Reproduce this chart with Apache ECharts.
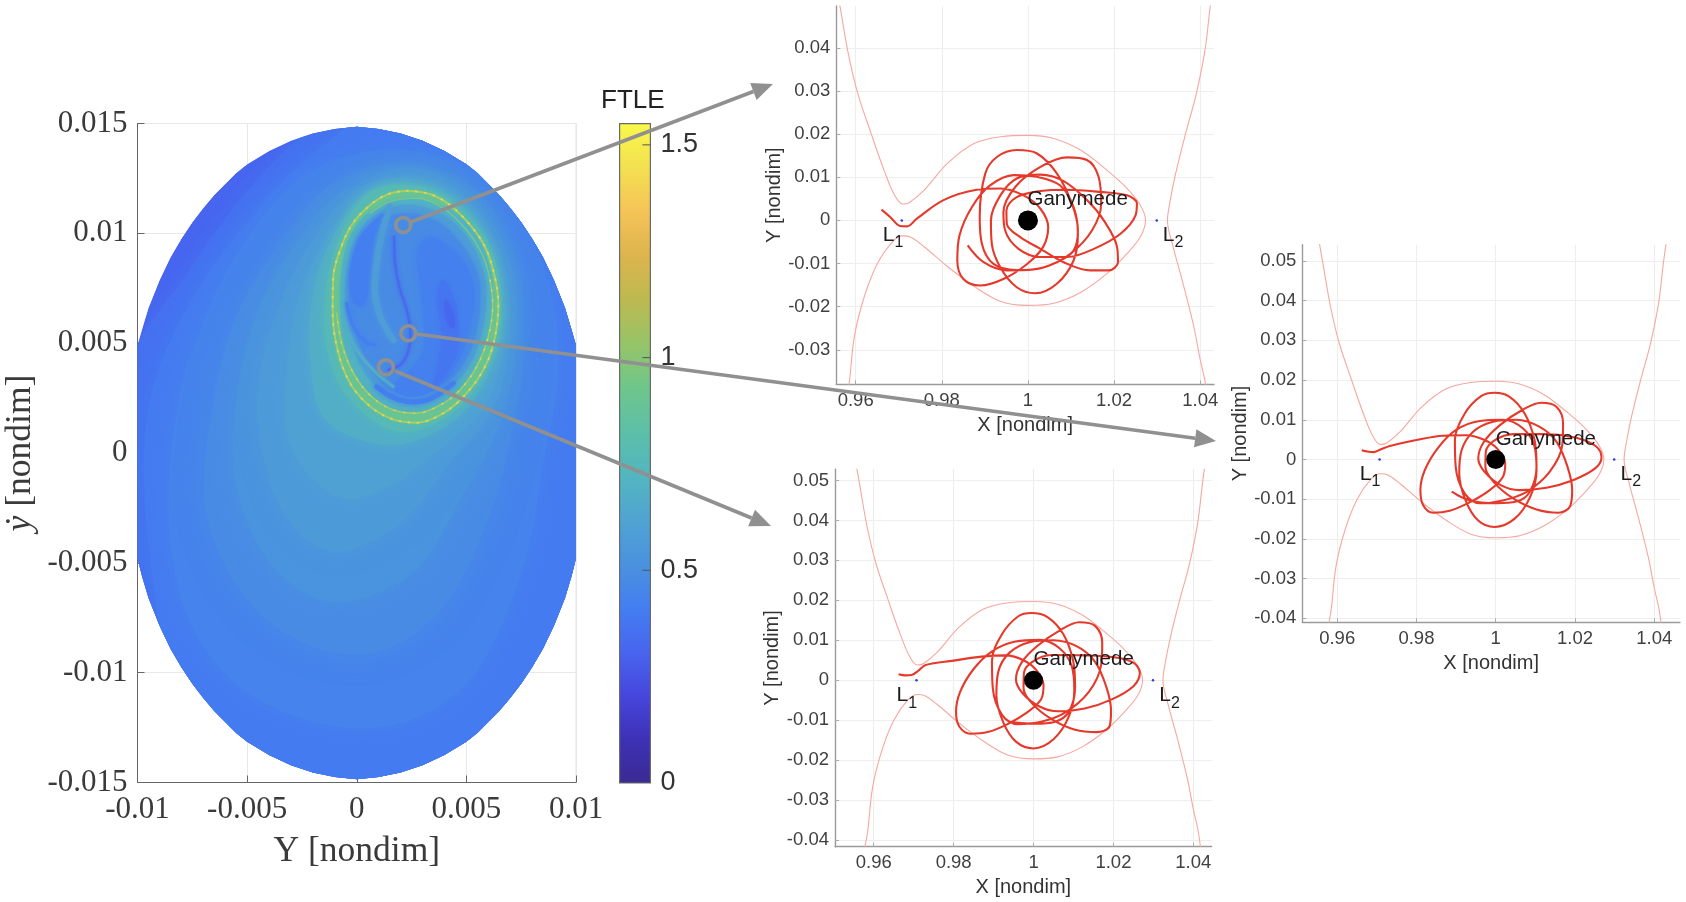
<!DOCTYPE html>
<html>
<head>
<meta charset="utf-8">
<title>FTLE map and Ganymede trajectories</title>
<script src="https://cdn.jsdelivr.net/npm/echarts@6/dist/echarts.min.js"></script>
<style>
html, body { margin: 0; padding: 0; background: #fff; }
#chart { width: 1686px; height: 902px; }
</style>
</head>
<body>
<div id="chart"></div>
<script>
// colour scale of the FTLE bar, evenly spaced from 0 to 1.55
var parulaColors = ['#3a2a92', '#3d31b5', '#4646dd', '#4865ef', '#447ef1', '#4a92de', '#50a4d2', '#53b6bf',
    '#5cbfa8', '#6fc68b', '#97c468', '#bdb94f', '#ddb44e', '#f5c457', '#f3e050', '#f9f94a'];
var ftleMax = 1.55;

// outline of the sampled region [Y, ydot]
var regionEdge = [[0, 0.01485], [0.001, 0.01475], [0.002, 0.01455], [0.003, 0.01422], [0.004, 0.01375], [0.005, 0.01315], [0.0055, 0.01275],
    [0.006, 0.01225], [0.0065, 0.01175], [0.007, 0.01115], [0.0075, 0.0105], [0.008, 0.00975], [0.0085, 0.0089], [0.009, 0.00785], [0.0095, 0.0066], [0.0098, 0.0056], [0.01, 0.0049],
    [0.01, -0.0048], [0.0098, -0.0056], [0.0095, -0.0066], [0.009, -0.00785], [0.0085, -0.0089], [0.008, -0.00975], [0.0075, -0.0105], [0.007, -0.01115], [0.0065, -0.01175], [0.006, -0.01225], [0.0055, -0.01275],
    [0.005, -0.01315], [0.004, -0.01375], [0.003, -0.01422], [0.002, -0.01455], [0.001, -0.01475], [0, -0.01485],
    [-0.001, -0.01475], [-0.002, -0.01455], [-0.003, -0.01422], [-0.004, -0.01375], [-0.005, -0.01315], [-0.0055, -0.01275], [-0.006, -0.01225], [-0.0065, -0.01175],
    [-0.007, -0.01115], [-0.0075, -0.0105], [-0.008, -0.00975], [-0.0085, -0.0089], [-0.009, -0.00785], [-0.0095, -0.0066], [-0.0098, -0.0056], [-0.01, -0.0048],
    [-0.01, 0.0049], [-0.0098, 0.0056], [-0.0095, 0.0066], [-0.009, 0.00785], [-0.0085, 0.0089], [-0.008, 0.00975], [-0.0075, 0.0105], [-0.007, 0.01115], [-0.0065, 0.01175], [-0.006, 0.01225], [-0.0055, 0.01275],
    [-0.005, 0.01315], [-0.004, 0.01375], [-0.003, 0.01422], [-0.002, 0.01455], [-0.001, 0.01475]];

// FTLE contours, lowest level first
var contour36 = [[-0.0105, 0.0035], [-0.0075, 0.0085], [-0.0045, 0.0125], [-0.001, 0.0155], [0.004, 0.017], [0.012, 0.016], [0.013, -0.018], [-0.012, -0.018]];
var contour40 = [[-0.0095, -0.004], [-0.0095, 0.002], [-0.0078, 0.0065], [-0.005, 0.0105], [-0.0018, 0.0138], [0.002, 0.016], [0.012, 0.016], [0.012, -0.008], [0.008, -0.0135], [0.004, -0.0155], [-0.004, -0.016], [-0.008, -0.011]];
var contour44 = [[-0.0085, -0.004], [-0.0082, 0.002], [-0.0068, 0.0065], [-0.0045, 0.0105], [-0.0018, 0.013], [0.002, 0.0138], [0.006, 0.0125], [0.0085, 0.0085], [0.0092, 0.004], [0.0085, -0.0005], [0.0075, -0.0055], [0.005, -0.0105], [0.001, -0.0125], [-0.004, -0.0115], [-0.0072, -0.0085]];
var contour48 = [[-0.0068, -0.003], [-0.0066, 0.002], [-0.0055, 0.0062], [-0.0035, 0.0095], [-0.0012, 0.0122], [0.002, 0.0132], [0.0052, 0.0122], [0.0072, 0.0092], [0.0076, 0.0055], [0.0072, 0.0015], [0.0058, -0.0035], [0.0035, -0.0075], [0, -0.0092], [-0.0042, -0.0075]];
var contour52 = [[-0.0055, -0.0015], [-0.0055, 0.0025], [-0.0045, 0.0065], [-0.0028, 0.0095], [-0.0008, 0.0118], [0.0022, 0.013], [0.005, 0.012], [0.0069, 0.009], [0.0073, 0.0055], [0.0066, 0.0015], [0.0048, -0.002], [0.0025, -0.0055], [-0.001, -0.0068], [-0.0038, -0.0052]];
var contour56 = [[-0.0042, -0.0005], [-0.0045, 0.003], [-0.0035, 0.0068], [-0.002, 0.0097], [-0.0003, 0.0118], [0.0023, 0.0127], [0.0048, 0.0118], [0.0066, 0.009], [0.007, 0.0055], [0.0062, 0.002], [0.0042, -0.0005], [0.002, -0.0032], [-0.001, -0.0045], [-0.003, -0.0032]];
var contour60 = [[-0.003, 0.0003], [-0.0032, 0.0035], [-0.0026, 0.0072], [-0.0014, 0.0097], [0.0002, 0.0118], [0.0023, 0.0125], [0.0046, 0.0117], [0.0063, 0.0092], [0.0068, 0.0058], [0.0059, 0.0022], [0.0038, 0.0002], [0.0015, -0.0015], [-0.0008, -0.002]];
var contour66 = [[-0.0014, 0.0015], [-0.0021, 0.004], [-0.002, 0.0072], [-0.0011, 0.0098], [0.0004, 0.0118], [0.0023, 0.0123], [0.0044, 0.0116], [0.0061, 0.0094], [0.00665, 0.0062], [0.0062, 0.004], [0.0048, 0.0018], [0.0028, 0.0006], [0.001, 0.0004]];
var contour72 = [[-0.0006, 0.0028], [-0.0014, 0.005], [-0.0014, 0.0075], [-0.0008, 0.0098], [0.0005, 0.0118], [0.0023, 0.0122], [0.0043, 0.0115], [0.006, 0.0095], [0.0066, 0.0068], [0.0061, 0.0042], [0.0048, 0.0022], [0.0027, 0.001], [0.0012, 0.0012]];

// the yellow ring and the bands inside it
var ringOuter = [[0.00228, 0.01194], [0.00334, 0.01179], [0.00425, 0.01129], [0.00517, 0.01038], [0.00585, 0.00939], [0.00626, 0.00818], [0.00646, 0.00681], [0.00631, 0.0053], [0.00585, 0.00393], [0.00501, 0.00272], [0.00395, 0.00181], [0.00273, 0.00138], [0.00152, 0.00158], [0.00045, 0.00226], [-0.00038, 0.00332], [-0.00091, 0.00484], [-0.0011, 0.00651], [-0.00107, 0.00803], [-0.00076, 0.00924], [-0.00023, 0.01038], [0.00061, 0.01129], [0.00144, 0.01179]];
var ringSecond = [[0.00608, 0.00787], [0.0062, 0.00681], [0.006, 0.0053], [0.00547, 0.00393], [0.00471, 0.00287], [0.0038, 0.00218], [0.00273, 0.00181], [0.00167, 0.00196], [0.00068, 0.00256], [-0.00015, 0.00363], [-0.00069, 0.00499], [-0.00091, 0.00636]];
var ringThird = [[0.00061, 0.01091], [0.00152, 0.01144], [0.00273, 0.01159], [0.00395, 0.01114], [0.00501, 0.01015], [0.00577, 0.00894], [0.00608, 0.00787]];
var inner72 = [[0.00228, 0.01159], [0.00425, 0.01106], [0.00547, 0.00985], [0.00608, 0.00833], [0.00618, 0.00681], [0.00593, 0.0053], [0.00539, 0.00393], [0.00456, 0.00279], [0.0038, 0.00218], [0.00273, 0.00188], [0.00167, 0.00203], [0.00068, 0.00264], [-0.00015, 0.00378], [-0.00061, 0.00514], [-0.00076, 0.00681], [-0.00069, 0.00833], [-0.00031, 0.00985], [0.00061, 0.01098]];
var inner60 = [[0.00228, 0.01129], [0.00395, 0.01083], [0.00517, 0.00962], [0.0058, 0.00818], [0.0059, 0.00681], [0.00565, 0.0053], [0.00509, 0.00393], [0.00425, 0.00302], [0.00273, 0.00234], [0.00167, 0.00249], [0.00076, 0.00317], [0.00007, 0.00423], [-0.00034, 0.00545], [-0.00053, 0.00681], [-0.00043, 0.00833], [-0.00008, 0.00969], [0.00076, 0.01076]];
var inner50 = [[0.00243, 0.01091], [0.0038, 0.01045], [0.00486, 0.00939], [0.00555, 0.00803], [0.00562, 0.00681], [0.00539, 0.0053], [0.00479, 0.00393], [0.00395, 0.00317], [0.00273, 0.00264], [0.00167, 0.00279], [0.00091, 0.00347], [0.0003, 0.00454], [-0.00015, 0.00575], [-0.00034, 0.00696], [-0.00023, 0.00833], [0.00015, 0.00954], [0.00106, 0.0106]];
var inner43 = [[0.00349, 0.00985], [0.00471, 0.00894], [0.00532, 0.00772], [0.00532, 0.00651], [0.00501, 0.00514], [0.00441, 0.00378], [0.00349, 0.00287], [0.00243, 0.00256], [0.00167, 0.00302], [0.00243, 0.00378], [0.00304, 0.00469], [0.00304, 0.00605], [0.00289, 0.00757], [0.00273, 0.00909], [0.00304, 0.00969]];
var inner36 = [[0.00395, 0.00787], [0.00448, 0.00696], [0.00463, 0.00575], [0.00463, 0.00469], [0.0041, 0.00363], [0.00349, 0.00302], [0.00372, 0.00408], [0.00387, 0.0053], [0.00372, 0.00651], [0.00365, 0.00727]];
var inner31 = [[0.00403, 0.00696], [0.00433, 0.00658], [0.00448, 0.00575], [0.00425, 0.00575], [0.00403, 0.00636]];
var pocketLeft = [[0.00137, 0.01098], [0.00083, 0.00985], [0.00061, 0.00833], [0.00045, 0.00696], [0.00015, 0.00663], [-0.00015, 0.00689], [-0.00034, 0.00772], [-0.00023, 0.00878], [0.00023, 0.00999]];
var ridgeLine = [[0.00152, 0.01121], [0.00114, 0.00999], [0.00091, 0.00863], [0.00083, 0.00727], [0.00114, 0.00605], [0.00167, 0.00514]];
var ridgeLow = [[-0.00061, 0.00621], [0, 0.00469], [0.00091, 0.00363], [0.00167, 0.00302]];
var bandBottom = [[0.00091, 0.00302], [0.00197, 0.00241], [0.00319, 0.00241], [0.00441, 0.00317]];
var filamentMain = [[0.0017, 0.00985], [0.00175, 0.00863], [0.00194, 0.00757], [0.00228, 0.00651], [0.00243, 0.00575], [0.0024, 0.00484], [0.00205, 0.00408], [0.00144, 0.00378]];
var filamentLow = [[-0.00046, 0.00681], [-0.00015, 0.00575], [0.00038, 0.00507], [0.00083, 0.00492]];

// the grey rings on the map, one per sampled trajectory
var pickedPoints = [[0.00212, 0.01038], [0.00235, 0.00545], [0.00133, 0.0039]];

// zero velocity curves [X, Y], shared by the three orbit panels
var zvcLeft = [[0.9555, 0.0545], [0.9564, 0.0494], [0.9583, 0.0386], [0.9605, 0.0294], [0.9636, 0.0201], [0.9666, 0.0116], [0.969, 0.0059], [0.9709, 0.0038],
    [0.9724, 0.0041], [0.9759, 0.007], [0.9813, 0.0132], [0.9875, 0.0178], [0.9937, 0.0194], [1, 0.0197], [1.006, 0.019], [1.0122, 0.0163], [1.0184, 0.0116],
    [1.023, 0.0074], [1.0261, 0.0035], [1.0273, 0], [1.0261, -0.0038], [1.023, -0.0077], [1.0184, -0.0123], [1.0122, -0.0167], [1.006, -0.0192], [1, -0.0197],
    [0.9937, -0.0188], [0.9875, -0.0153], [0.9813, -0.0107], [0.9759, -0.0061], [0.9728, -0.0039], [0.9709, -0.0036], [0.9686, -0.0049], [0.9651, -0.0099],
    [0.962, -0.0177], [0.9597, -0.0269], [0.9585, -0.0377], [0.9577, -0.042]];
var zvcRight = [[1.043, 0.0545], [1.0423, 0.0494], [1.0411, 0.0394], [1.0391, 0.0294], [1.0366, 0.0201], [1.0343, 0.0109], [1.0329, 0.0039], [1.0324, 0],
    [1.0337, -0.0061], [1.036, -0.0146], [1.0385, -0.0246], [1.04, -0.0323], [1.0412, -0.0377], [1.0418, -0.042]];
var lagrangePoints = [[0.9707, 0], [1.0299, 0]];
var ganymede = [[1, 0]];

// trajectories, offsets from Ganymede in units of 0.001
var orbitTop = [[-34, 2.5], [-32, 0.8], [-29.7, -1.3], [-28.1, -1.4], [-25.8, 0.4], [-19.6, 4.7], [-11.9, 7.1], [-6.4, 7.4], [-1, 5.8], [2.9, 2.7], [4.7, -1.6], [3.5, -6.2], [-0.2, -10.1], [-5.7, -13.6], [-11.1, -15.1], [-15, -13.6], [-16.4, -9.3], [-15.9, -3.5], [-13, 3.1], [-8.8, 8.1], [-3.3, 10.5], [2.1, 10.1], [7.5, 8.1], [10.6, 3.1], [11.6, -3.1], [10.6, -9.3], [6.7, -14.7], [1.7, -16.9], [-2.6, -15.5], [-6.4, -10.9], [-8.4, -5.4], [-8.6, 0], [-6.4, 5.8], [-2.6, 9.7], [2.9, 10.6], [8.3, 9.1], [13.7, 4.7], [17.6, 0], [20.7, -6.2], [20.9, -9.7], [18.8, -11.6], [14.5, -11.6], [8.3, -9.7], [2.9, -6.6], [-1.8, -3.9], [-4.9, -0.8], [-5, 2.3], [-2.6, 5.4], [2.9, 6.8], [9.1, 7.1], [16.8, 6.6], [23, 5.8], [25.3, 3.9], [25, 1.2], [21.5, -3.1], [15.3, -6.6], [9.1, -8.5], [2.9, -8.5], [-2.2, -6.6], [-5.3, -2.3], [-5.7, 1.9], [-2.9, 7.8], [2.9, 12.4], [9.1, 14.6], [13.7, 14], [16.4, 10.1], [17, 3.9], [14.9, -2.3], [9.8, -7.8], [3.6, -10.9], [-2.6, -11.5], [-8, -10.1], [-10.7, -5.4], [-11.2, 0.8], [-9.9, 10.9], [-7.2, 14.7], [-2.6, 16.3], [2.1, 15.5], [6.7, 10.9], [10.2, 3.9], [11.6, -2.3], [10.6, -7], [6.7, -9.7], [1.3, -11.4], [-4.9, -11.6], [-10.3, -9.7], [-14, -5.8]];
var orbitRight = [[-33.8, 2.35], [-32.4, 2], [-30.8, 1.85], [-29.1, 2.5], [-26.7, 3.4], [-20, 4.9], [-13.3, 6], [-7.4, 6.1], [-2.8, 4.9], [0.6, 2.5], [2.4, -1], [1.8, -4.4], [-1.5, -7.7], [-6.6, -10.8], [-11.6, -12.9], [-15.8, -13.4], [-18.3, -11.5], [-19, -7.7], [-17.9, -2.7], [-14.5, 3], [-9.9, 7.5], [-4, 9.7], [1.8, 10], [6.9, 7.8], [9.8, 3.2], [10.3, -2.7], [8.7, -9.4], [4.8, -14.9], [-0.3, -17], [-4.5, -15.3], [-7.6, -10.3], [-9.2, -3.5], [-8.6, 2.4], [-5.7, 7], [-0.7, 9.5], [5.2, 10], [11.1, 8.2], [15.4, 4.4], [18.1, -1.8], [19.3, -7.7], [18.7, -11.9], [15.8, -13.4], [10.3, -12.6], [4.4, -9.8], [-0.3, -5.9], [-2.6, -1.8], [-2.5, 1.9], [-0.3, 4.8], [4.4, 6.4], [12.8, 6.4], [20.3, 5.5], [25.2, 3.4], [26.7, 0.5], [25, -2.3], [19.5, -5.2], [12.8, -7.1], [6, -7.7], [1.4, -6.5], [-2.8, -3.1], [-4.4, 0.25], [-3, 4.4], [1, 8.6], [6.9, 12.6], [11.5, 14.3], [15.3, 13.3], [17, 9.1], [16.8, 3.6], [13.6, -3.1], [7.7, -8.2], [1.8, -10.3], [-4, -11], [-7.8, -8.6], [-10.1, -1.8], [-10.3, 4.9], [-7.8, 11.6], [-3.6, 16], [-0.3, 16.8], [3.5, 15.8], [7.3, 11.6], [9.8, 4.9], [10.3, -1.8], [8.6, -8.1], [5.2, -10.6], [0.2, -11], [-5.3, -10.6], [-8.6, -9.5], [-11.1, -8.1]];
var orbitBottom = [[-33.8, 1.5], [-32, 1.2], [-30.5, 1.3], [-28.8, 2.4], [-27, 3.8], [-20, 4.9], [-13, 5.9], [-7, 6.2], [-2.5, 5], [0.8, 2.4], [2.5, -1.2], [1.9, -4.8], [-1.5, -8], [-6.5, -11], [-11.5, -13], [-15.8, -13.4], [-18.6, -11.6], [-19.4, -8], [-18.4, -3], [-15, 2.8], [-10.3, 7.3], [-4.5, 9.7], [1.5, 10.1], [6.5, 8], [9.6, 3.4], [10.2, -2.5], [8.8, -9.2], [5, -14.8], [0, -17.1], [-4.4, -15.4], [-7.6, -10.5], [-9.3, -3.8], [-8.8, 2.2], [-6, 6.9], [-1, 9.5], [5, 10], [11, 8.4], [15.4, 4.6], [18.2, -1.6], [19.4, -7.6], [19, -11.6], [15.8, -13], [10.4, -12.4], [4.6, -9.8], [-0.2, -6], [-2.5, -2], [-2.4, 1.8], [-0.3, 4.6], [4.4, 6.3], [12.8, 6.2], [20.3, 5.7], [25, 4.4], [26.6, 1.8], [25, -1.5], [19.6, -4.8], [12.8, -7.1], [6.2, -7.8], [1.5, -6.6], [-2.8, -3.2], [-4.4, 0.2], [-3, 4.4], [1, 8.6], [6.8, 12.6], [11.4, 14.5], [15.4, 13.6], [17.2, 9.3], [16.9, 3.7], [13.8, -3], [7.8, -8.2], [1.9, -10.4], [-4, -11], [-7.8, -8.8], [-10.2, -2], [-10.4, 4.8], [-7.9, 11.5], [-3.8, 16], [-0.5, 16.8], [3.5, 15.8], [7.4, 11.6], [9.9, 4.9], [10.4, -1.8], [8.8, -8], [5.4, -10.4], [0.4, -10.9], [-3.5, -10.7], [-6.2, -10.4]];

// tick labels
var mapXTicks = [-0.01, -0.005, 0, 0.005, 0.01];
var mapYTicks = [-0.015, -0.01, -0.005, 0, 0.005, 0.01, 0.015];
var barTicks = [0, 0.5, 1, 1.5];
var panelXTicks = [0.96, 0.98, 1, 1.02, 1.04];
var topYTicks = [-0.03, -0.02, -0.01, 0, 0.01, 0.02, 0.03, 0.04];
var sideYTicks = [-0.04, -0.03, -0.02, -0.01, 0, 0.01, 0.02, 0.03, 0.04, 0.05];

var fieldLayers = [
    { level: 0.31, pts: regionEdge }, { level: 0.36, pts: contour36, smooth: 0.35, blur: 26 }, { level: 0.4, pts: contour40, smooth: 0.35, blur: 26 },
    { level: 0.44, pts: contour44, smooth: 0.35, blur: 26 }, { level: 0.48, pts: contour48, smooth: 0.35, blur: 26 }, { level: 0.52, pts: contour52, smooth: 0.35, blur: 24 },
    { level: 0.56, pts: contour56, smooth: 0.35, blur: 20 }, { level: 0.6, pts: contour60, smooth: 0.35, blur: 16 }, { level: 0.68, pts: contour66, smooth: 0.35, blur: 12 },
    { level: 0.76, pts: contour72, smooth: 0.35, blur: 8 },
    { level: 0.9, pts: ringOuter, smooth: 0.35, blur: 5 }, { level: 0.7, pts: inner72, smooth: 0.35, blur: 3 }, { level: 0.58, pts: inner60, smooth: 0.35, blur: 4 },
    { level: 0.48, pts: inner50, smooth: 0.35, blur: 5 }, { level: 0.43, pts: inner43, smooth: 0.35, blur: 7 }, { level: 0.38, pts: inner36, smooth: 0.35, blur: 6 },
    { level: 0.32, pts: inner31, smooth: 0.35, blur: 5 }, { level: 0.42, pts: pocketLeft, smooth: 0.35, blur: 6 },
    { level: 0.58, pts: ridgeLine, line: 6, blur: 5 }, { level: 0.68, pts: ridgeLow, line: 2.5, blur: 3 }, { level: 0.42, pts: bandBottom, line: 5, blur: 6 },
    { level: 0.33, pts: filamentMain, line: 2.5, blur: 4 }, { level: 0.42, pts: filamentLow, line: 3, blur: 4 }
];

function fromGanymede(list) {
    return list.map(function (d) { return [1 + d[0] / 1000, d[1] / 1000]; });
}

function drawLayer(params, api) {
    var layer = fieldLayers[params.dataIndex];
    var color = api.visual('color');
    var points = layer.pts.map(function (p) { return api.coord(p); });
    var style = layer.line
        ? { fill: null, stroke: color, lineWidth: layer.line, lineCap: 'round', shadowBlur: layer.blur, shadowColor: color }
        : { fill: color, shadowBlur: layer.blur || 0, shadowColor: color };
    return {
        type: layer.line ? 'polyline' : 'polygon',
        shape: { points: points, smooth: layer.line ? 0.35 : (layer.smooth || 0) },
        style: style,
        silent: true,
        clipPath: { type: 'polygon', shape: { points: regionEdge.map(function (p) { return api.coord(p); }) } }
    };
}

function drawBar(params, api) {
    var a = api.coord([0, ftleMax]);
    var b = api.coord([1, 0]);
    var stops = parulaColors.map(function (c, i) { return { offset: i / (parulaColors.length - 1), color: c }; });
    var kids = [{
        type: 'rect',
        shape: { x: a[0], y: a[1], width: b[0] - a[0], height: b[1] - a[1] },
        style: { fill: new echarts.graphic.LinearGradient(0, 1, 0, 0, stops), stroke: '#6a6a6a', lineWidth: 1.2 }
    }];
    barTicks.forEach(function (t) {
        if (t === 0) return;
        var p = api.coord([1, t]);
        kids.push({
            type: 'line',
            shape: { x1: p[0], y1: p[1], x2: p[0] - 8, y2: p[1] },
            style: { stroke: '#555', lineWidth: 1 }
        });
    });
    return { type: 'group', children: kids, silent: true };
}

var sans = '"Liberation Sans", Arial, sans-serif';
var serif = '"Liberation Serif", "DejaVu Serif", serif';

var option = {
    animation: false,
    backgroundColor: '#fff',
    textStyle: { fontFamily: sans },
    grid: [
        { left: 137.5, top: 123.5, width: 438.5, height: 659, show: true, borderColor: '#e4e4e4', borderWidth: 1, backgroundColor: 'transparent' },
        { left: 619.6, top: 123.6, width: 30.8, height: 659.4 },
        { left: 836.3, top: 6, width: 377.7, height: 378.3 },
        { left: 1302.3, top: 244.7, width: 377.7, height: 377.6 },
        { left: 835, top: 469.3, width: 376.7, height: 377.4 }
    ],
    xAxis: [
        mapAxis(0, -0.01, 0.01, 0.005, mapXTicks, 'Y [nondim]', 51, 12),
        { gridIndex: 1, type: 'value', min: 0, max: 1, show: false },
        panelX(2, 0.9555, 1.0432),
        panelX(3, 0.9512, 1.0465),
        panelX(4, 0.9503, 1.0446)
    ],
    yAxis: [
        mapAxis(0, -0.015, 0.015, 0.005, mapYTicks, '{i|ẏ} [nondim]', 99, 10),
        {
            gridIndex: 1, type: 'value', position: 'right', min: 0, max: ftleMax,
            axisLine: { show: false }, splitLine: { show: false }, axisTick: { show: false },
            axisLabel: { customValues: barTicks, margin: 10, fontSize: 27, color: '#333', fontFamily: sans, padding: [7, 0, 0, 0] },
            z: 5
        },
        panelY(2, -0.038, 0.0497, topYTicks, 50),
        panelY(3, -0.041, 0.0541, sideYTicks, 41),
        panelY(4, -0.0417, 0.0528, sideYTicks, 50)
    ],
    visualMap: {
        show: false, seriesIndex: 0, dimension: 2, min: 0, max: ftleMax,
        inRange: { color: parulaColors }
    },
    series: [
        {
            type: 'custom', xAxisIndex: 0, yAxisIndex: 0, coordinateSystem: 'cartesian2d',
            renderItem: drawLayer, encode: { x: 0, y: 1 },
            data: fieldLayers.map(function (l) { return [l.pts[0][0], l.pts[0][1], l.level]; })
        },
        ringLine(ringThird, '#7cc98a', 1.4, false, null),
        ringLine(ringSecond, '#a9cc62', 1.5, false, null),
        ringLine(ringSecond, '#e6d24f', 1.6, false, [1, 9]),
        ringLine(ringOuter, '#b2cf5f', 1.9, true, null),
        ringLine(ringOuter, '#ecd44f', 2, true, [1, 8]),
        {
            type: 'scatter', xAxisIndex: 0, yAxisIndex: 0, data: pickedPoints, symbolSize: 15, z: 20,
            itemStyle: { color: 'transparent', borderColor: '#909090', borderWidth: 3.6, opacity: 1 }
        },
        {
            type: 'custom', xAxisIndex: 1, yAxisIndex: 1, renderItem: drawBar, data: [[0, ftleMax]], encode: { x: 0, y: 1 }
        }
    ].concat(
        panelSeries(2, orbitTop, 20, [0.9999, 0.0049], [0.9663, -0.0041], [1.0313, -0.0041]),
        panelSeries(3, orbitRight, 19, [1, 0.0051], [0.9657, -0.0044], [1.0315, -0.0044]),
        panelSeries(4, orbitBottom, 19, [1, 0.0052], [0.9657, -0.0045], [1.0315, -0.0045])
    ),
    graphic: {
        elements: [
            { type: 'text', left: 601, top: 88, z: 50, style: { text: 'FTLE', font: '26px ' + sans, fill: '#222' } }
        ].concat(
            arrow(411, 222, 773, 84),
            arrow(417, 334, 1216, 441),
            arrow(395, 371, 771, 526)
        )
    }
};

function mapAxis(grid, min, max, step, ticks, name, gap, margin) {
    return {
        gridIndex: grid, type: 'value', min: min, max: max, interval: step,
        name: name, nameLocation: 'middle', nameGap: gap,
        nameTextStyle: { fontFamily: serif, fontSize: 35.5, color: '#3a3a3a', rich: { i: { fontFamily: serif, fontStyle: 'italic', fontSize: 35.5, color: '#3a3a3a' } } },
        axisLine: { onZero: false, lineStyle: { color: '#666', width: 1 } },
        axisTick: { inside: true, length: 7, lineStyle: { color: '#666' } },
        axisLabel: {
            fontFamily: serif, fontSize: 31, color: '#3a3a3a', margin: margin,
            formatter: function (v) {
                var hit = ticks.filter(function (t) { return Math.abs(t - v) < 1e-9; });
                return hit.length ? String(hit[0]) : '';
            }
        },
        splitLine: { show: true, lineStyle: { color: '#e8e8e8', width: 1 } }
    };
}

function panelX(grid, min, max) {
    return {
        gridIndex: grid, type: 'value', min: min, max: max,
        name: 'X [nondim]', nameLocation: 'middle', nameGap: 31,
        nameTextStyle: { fontSize: 20, color: '#333' },
        axisLine: { onZero: false, lineStyle: { color: '#9a9a9a', width: 1.4 } },
        axisTick: { inside: true, length: 4, lineStyle: { color: '#aaa' }, customValues: panelXTicks },
        axisLabel: { customValues: panelXTicks, fontSize: 18.5, color: '#404040', margin: 7 },
        splitLine: { show: true, lineStyle: { color: '#eeeeee', width: 1.2 } }
    };
}

function panelY(grid, min, max, ticks, gap) {
    return {
        gridIndex: grid, type: 'value', min: min, max: max,
        name: 'Y [nondim]', nameLocation: 'middle', nameGap: gap,
        nameTextStyle: { fontSize: 20, color: '#333' },
        axisLine: { onZero: false, lineStyle: { color: '#9a9a9a', width: 1.4 } },
        axisTick: { inside: true, length: 4, lineStyle: { color: '#aaa' }, customValues: ticks },
        axisLabel: { customValues: ticks, fontSize: 18.5, color: '#404040', margin: 6, padding: [3, 0, 0, 0] },
        splitLine: { show: true, lineStyle: { color: '#eeeeee', width: 1.2 } }
    };
}

function ringLine(points, color, width, closed, dash) {
    var data = closed ? points.concat([points[0]]) : points;
    return {
        type: 'line', xAxisIndex: 0, yAxisIndex: 0, data: data, smooth: 0.35, symbol: 'none', z: 4,
        lineStyle: { color: color, width: width, type: dash || 'solid', cap: 'round', opacity: dash ? 0.9 : 0.85 }
    };
}

function textMark(grid, point, text, rich) {
    return {
        type: 'scatter', xAxisIndex: grid, yAxisIndex: grid, data: [point], symbolSize: 0, z: 12,
        itemStyle: { opacity: 1 },
        label: { show: true, position: 'right', distance: 0, formatter: text, fontSize: 20.5, color: '#1c1c1c', rich: rich }
    };
}

function panelSeries(grid, orbit, bodySize, nameAt, l1At, l2At) {
    var sub = {
        l: { fontSize: 21, color: '#1c1c1c', lineHeight: 26, verticalAlign: 'top' },
        s: { fontSize: 16, color: '#1c1c1c', lineHeight: 26, verticalAlign: 'bottom', padding: [10, 0, 0, 0] }
    };
    var base = { type: 'line', xAxisIndex: grid, yAxisIndex: grid, symbol: 'none', smooth: 0.35, clip: true };
    return [
        Object.assign({}, base, { data: zvcLeft, z: 3, lineStyle: { color: '#f6a8a0', width: 1.1 } }),
        Object.assign({}, base, { data: zvcRight, z: 3, lineStyle: { color: '#f6a8a0', width: 1.1 } }),
        Object.assign({}, base, { data: fromGanymede(orbit), z: 4, lineStyle: { color: '#e5392b', width: 2.1 } }),
        {
            type: 'scatter', xAxisIndex: grid, yAxisIndex: grid, data: ganymede, symbolSize: bodySize, z: 6,
            itemStyle: { color: '#000', opacity: 1 }
        },
        {
            type: 'scatter', xAxisIndex: grid, yAxisIndex: grid, data: lagrangePoints, symbolSize: 2.5, z: 6,
            itemStyle: { color: '#2a35f0', opacity: 1 }
        },
        textMark(grid, nameAt, 'Ganymede'),
        textMark(grid, l1At, '{l|L}{s|1}', sub),
        textMark(grid, l2At, '{l|L}{s|2}', sub)
    ];
}

// grey pointer from a ring on the map to its panel
function arrow(x0, y0, x1, y1) {
    var len = Math.sqrt((x1 - x0) * (x1 - x0) + (y1 - y0) * (y1 - y0));
    var ux = (x1 - x0) / len;
    var uy = (y1 - y0) / len;
    var headLen = 21;
    var headHalf = 9;
    var bx = x1 - ux * headLen;
    var by = y1 - uy * headLen;
    return [
        {
            type: 'line', z: 40, shape: { x1: x0, y1: y0, x2: bx, y2: by },
            style: { stroke: '#909090', lineWidth: 3.6 }, silent: true
        },
        {
            type: 'polygon', z: 40,
            shape: { points: [[x1, y1], [bx - uy * headHalf, by + ux * headHalf], [bx + uy * headHalf, by - ux * headHalf]] },
            style: { fill: '#909090' }, silent: true
        }
    ];
}

var chart = echarts.init(document.getElementById('chart'), null, { renderer: 'canvas' });
chart.setOption(option);
</script>
</body>
</html>
